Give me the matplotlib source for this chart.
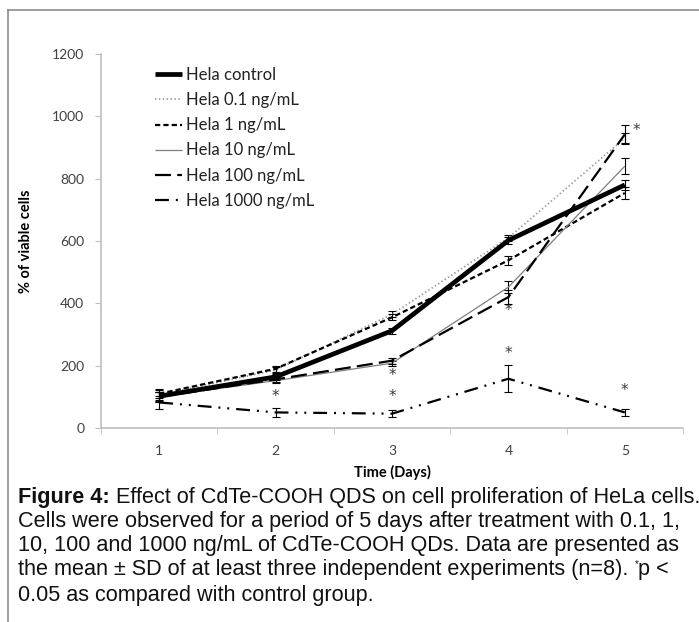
import numpy as np
import matplotlib
matplotlib.use("Agg")
import matplotlib.pyplot as plt
from matplotlib.lines import Line2D

plt.rcParams['lines.scale_dashes'] = False
#
# dados (dias e % de celulas viaveis)
#
dias = [1, 2, 3, 4, 5]
controle = [102, 164, 312, 602, 780]
c01 = [106, 186, 365, 610, 930]
c1 = [110, 190, 355, 538, 754]
c10 = [100, 152, 208, 452, 840]
c100 = [100, 156, 216, 420, 942]
c1000 = [82, 50, 46, 158, 50]

err_controle = [15, 10, 10, 12, 15]
err_c01 = [15, 10, 10, 10, 15]
err_c1 = [15, 10, 10, 15, 18]
err_c10 = [15, 8, 8, 20, 25]
err_c100 = [15, 8, 10, 22, 30]
err_c1000 = [20, 15, 12, 43, 10]

nomes = ['Hela control', 'Hela 0.1 ng/mL', 'Hela 1 ng/mL', 'Hela 10 ng/mL',
         'Hela 100 ng/mL', 'Hela 1000 ng/mL']

# asteriscos (dia, valor)
ast_x = [2, 3, 3, 4, 4, 5, 5.1]
ast_y = [100, 168, 100, 378, 240, 119, 953]

yticks = [0, 200, 400, 600, 800, 1000, 1200]

fig = plt.figure(figsize=(6.99, 6.22), dpi=100)
ax = fig.add_axes([101/699, 1-428/622, 582/699, 374/622])

cinza = '#bfbfbf'
estilo = [
    dict(color='black', lw=3.4, ls='-', zorder=8),
    dict(color='#9a9a9a', lw=1.3, dashes=(1.0, 1.8), zorder=3),
    dict(color='black', lw=1.6, dashes=(3.8, 2.2), zorder=4),
    dict(color='#7f7f7f', lw=0.9, ls='-', zorder=5),
    dict(color='black', lw=1.6, dashes=(11.5, 4.5), zorder=6),
    dict(color='black', lw=1.6, dashes=(10, 5, 1.4, 5, 1.4, 5), zorder=7),
]
series = [controle, c01, c1, c10, c100, c1000]
erros = [err_controle, err_c01, err_c1, err_c10, err_c100, err_c1000]

for s, e, st, nome in zip(series, erros, estilo, nomes):
    ax.errorbar(dias, s, yerr=e, fmt='none', ecolor='black', elinewidth=0.8,
                capsize=3, capthick=0.8, zorder=st['zorder'])
    ax.plot(dias, s, label=nome, solid_capstyle='butt', dash_capstyle='butt', **st)

for x, y in zip(ast_x, ast_y):
    ax.text(x, y, '*', ha='center', va='center', fontsize=11, color='#3a3a3a',
            family='DejaVu Sans')

ax.set_xlim(0.5, 5.5)
ax.set_ylim(0, 1200)
ax.set_yticks(yticks)
ax.set_xticks(dias)
ax.set_xticks(np.arange(0.5, 6.0, 1.0), minor=True)
ax.tick_params(axis='x', which='major', length=0, pad=12, labelsize=10, labelcolor='#404040')
ax.tick_params(axis='x', which='minor', length=4, color=cinza, direction='out')
ax.tick_params(axis='y', length=4, color=cinza, pad=8, labelsize=10, labelcolor='#404040')
for lab in ax.get_xticklabels() + ax.get_yticklabels():
    lab.set_family('Lato')
for lado in ['top', 'right']:
    ax.spines[lado].set_visible(False)
for lado in ['left', 'bottom']:
    ax.spines[lado].set_color(cinza)
    ax.spines[lado].set_linewidth(1.2)

ax.set_xlabel('Time (Days)', fontsize=10.5, fontweight='bold', family='Lato', labelpad=6)
ax.set_ylabel('% of viable cells', fontsize=10.5, fontweight='bold', family='Lato', labelpad=14)

leg = ax.legend(loc='upper left', bbox_to_anchor=(140/699, 1-52/622),
                bbox_transform=fig.transFigure, frameon=False,
                prop={'family': 'Lato', 'size': 12}, handlelength=1.6,
                handletextpad=0.25, labelspacing=0.55)
for t in leg.get_texts():
    t.set_color('#222222')

# moldura cinza
fig.add_artist(Line2D([8/699, 8/699], [0, 1-10/622], transform=fig.transFigure,
                      color='#8c8c8c', lw=1.2))
fig.add_artist(Line2D([8/699, 1], [1-10/622, 1-10/622], transform=fig.transFigure,
                      color='#8c8c8c', lw=1.2))

# legenda da figura
fs = 15.6
fonte = 'Liberation Sans'
cor = '#111111'
ys = [497, 521, 546, 570, 595]
renderer = fig.canvas.get_renderer()


def linha(pedacos, y, x0=18):
    # pedacos: lista de (texto, peso, tamanho, deslocamento vertical)
    x = x0
    for txt, peso, tam, dy in pedacos:
        t = fig.text(x/699, 1-(y+dy)/622, txt, fontsize=tam, fontweight=peso,
                     family=fonte, va='center', color=cor)
        bb = t.get_window_extent(renderer=renderer)
        x = bb.x1


linha([('Figure 4:', 'bold', fs, 0),
       (' Effect of CdTe-COOH QDS on cell proliferation of HeLa cells.', 'normal', fs, 0)], ys[0])
linha([('Cells were observed for a period of 5 days after treatment with 0.1, 1,', 'normal', fs, 0)], ys[1])
linha([('10, 100 and 1000 ng/mL of CdTe-COOH QDs. Data are presented as', 'normal', fs, 0)], ys[2])
linha([('the mean \u00b1 SD of at least three independent experiments (n=8). ', 'normal', fs, 0),
       ('*', 'normal', 7, -6),
       ('p <', 'normal', fs, 0)], ys[3])
linha([('0.05 as compared with control group.', 'normal', fs, 0)], ys[4])

fig.savefig('out.png', dpi=100)
